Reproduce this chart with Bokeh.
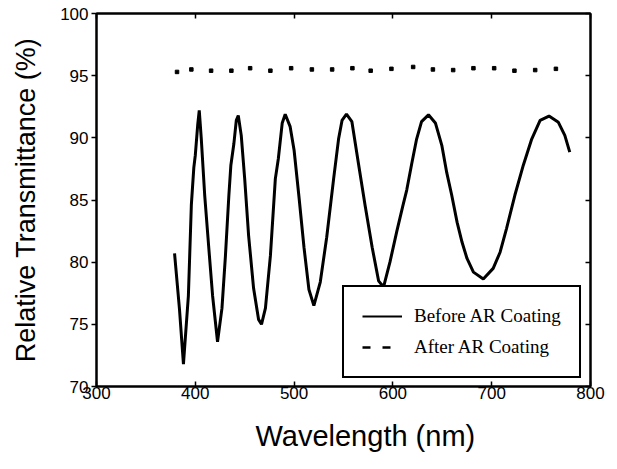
from bokeh.plotting import figure
from bokeh.models import Range1d, LinearAxis, Legend, LegendItem, FixedTicker, Title
from bokeh.embed import file_html
from bokeh.resources import INLINE

# ---- data ----
before_wl = [379, 384, 388, 393, 396, 398.5, 400, 402.5, 404, 406, 409.5, 413.5, 417.5,
             422.5, 427, 430.5, 434, 436, 439, 441.5, 443.5, 446.5, 450, 454, 459, 464,
             467, 471, 476, 481, 484, 488, 491, 496, 500, 505, 510, 515, 520, 526.5, 533,
             540, 545, 548.5, 553, 558.5, 565, 572, 579, 585.5, 590.5, 597, 604, 610, 614,
             619, 624, 629, 636, 643, 649.5, 654.5, 659.5, 665, 670, 675, 681.5, 691.5,
             701.5, 708.5, 715, 723.5, 732, 740.5, 749, 758, 767.5, 774, 779]
before_t = [80.7, 76.2, 71.8, 77.3, 84.6, 87.6, 88.6, 91.1, 92.2, 90.0, 85.4, 81.3, 77.3,
            73.6, 76.3, 80.5, 85.4, 87.8, 89.5, 91.4, 91.8, 90.2, 86.7, 82.1, 77.9, 75.4,
            75.0, 76.3, 80.5, 86.7, 88.3, 91.2, 91.9, 90.9, 89.0, 85.2, 81.2, 77.8, 76.5,
            78.4, 82.0, 86.7, 89.9, 91.4, 91.9, 91.3, 88.0, 84.5, 81.2, 78.5, 78.0, 80.0,
            82.5, 84.5, 85.8, 87.9, 89.9, 91.3, 91.85, 91.2, 89.4, 87.2, 85.4, 83.2, 81.6,
            80.3, 79.2, 78.65, 79.5, 80.8, 82.7, 85.4, 87.8, 89.9, 91.4, 91.75, 91.25,
            90.2, 88.85]

after_wl = [381.5, 396, 416, 436.5, 455.5, 476, 497, 518, 538.5, 559, 577.5, 598.5,
            620.5, 640.5, 661, 681.5, 702.5, 723, 744, 765]
after_t = [95.3, 95.5, 95.4, 95.4, 95.6, 95.4, 95.6, 95.5, 95.5, 95.6, 95.4, 95.55,
           95.7, 95.5, 95.45, 95.6, 95.6, 95.4, 95.45, 95.55]

x_ticks = [300, 400, 500, 600, 700, 800]
y_ticks = [70, 75, 80, 85, 90, 95, 100]
x_label = "Wavelength (nm)"
y_label = "Relative Transmittance (%)"
series_names = ["Before AR Coating", "After AR Coating"]

SANS = "Liberation Sans"
SERIF = "Liberation Serif"

p = figure(width=615, height=467, output_backend="svg", toolbar_location=None,
           x_range=Range1d(300, 800), y_range=Range1d(70, 100),
           min_border_left=96, min_border_right=25, min_border_top=13,
           min_border_bottom=81)
p.background_fill_color = "white"
p.border_fill_color = "white"
p.grid.visible = False
p.outline_line_color = "black"
p.outline_line_width = 2

# bottom axis
xa = p.xaxis[0]
xa.ticker = FixedTicker(ticks=x_ticks)
xa.major_label_text_font = SANS
xa.major_label_text_font_size = "17px"
xa.major_label_text_color = "black"
xa.major_label_standoff = 0
xa.major_tick_in = 5
xa.major_tick_out = 0
xa.minor_tick_in = 0
xa.minor_tick_out = 0
xa.axis_line_width = 2
xa.major_tick_line_width = 1.5

# x-axis title (below the axis, shifted right as in the reference)
p.add_layout(Title(text=x_label, align="left", offset=159, standoff=32,
                   vertical_align="bottom",
                   text_font=SANS, text_font_size="29px", text_font_style="normal",
                   text_color="black"), "below")

# left axis
ya = p.yaxis[0]
ya.ticker = FixedTicker(ticks=y_ticks)
ya.axis_label = y_label
ya.axis_label_text_font = SANS
ya.axis_label_text_font_size = "27px"
ya.axis_label_text_font_style = "normal"
ya.axis_label_text_color = "black"
ya.axis_label_standoff = 16
ya.major_label_text_font = SANS
ya.major_label_text_font_size = "17px"
ya.major_label_text_color = "black"
ya.major_label_standoff = 3
ya.major_tick_in = 0
ya.major_tick_out = 5
ya.minor_tick_in = 0
ya.minor_tick_out = 0
ya.axis_line_width = 2
ya.major_tick_line_width = 1.5

# top and right axes: inward ticks only, no labels
top = LinearAxis(ticker=FixedTicker(ticks=x_ticks),
                 major_label_overrides={t: "" for t in x_ticks},
                 major_label_standoff=0, major_tick_in=5, major_tick_out=0,
                 minor_tick_in=0, minor_tick_out=0, axis_line_width=2,
                 major_tick_line_width=1.5)
right = LinearAxis(ticker=FixedTicker(ticks=y_ticks),
                   major_label_overrides={t: "" for t in y_ticks},
                   major_label_standoff=0, major_tick_in=5, major_tick_out=0,
                   minor_tick_in=0, minor_tick_out=0, axis_line_width=2,
                   major_tick_line_width=1.5)
p.add_layout(top, "above")
p.add_layout(right, "right")

# data
p.line(before_wl, before_t, line_color="black", line_width=3)
p.scatter(after_wl, after_t, marker="square", size=3.5, fill_color="black",
          line_color="black")

# legend proxies (hidden renderers, shown only as legend glyphs)
r1 = p.line(before_wl, before_t, line_color="black", line_width=2, visible=False)
r2 = p.line(after_wl, after_t, line_color="black", line_width=2.5,
            line_dash="8 12", visible=False)

legend = Legend(items=[LegendItem(label=series_names[0], renderers=[r1]),
                       LegendItem(label=series_names[1], renderers=[r2])],
                location=(246, 8), orientation="vertical",
                label_text_font=SERIF, label_text_font_size="19px",
                label_text_color="black",
                glyph_width=40, glyph_height=22, label_height=22,
                label_standoff=12, padding=18, spacing=9, margin=0,
                border_line_color="black", border_line_width=2, border_line_alpha=1,
                background_fill_color="white", background_fill_alpha=1,
                inactive_fill_alpha=0)
p.add_layout(legend, "center")

open("out.html", "w").write(file_html(p, INLINE))
